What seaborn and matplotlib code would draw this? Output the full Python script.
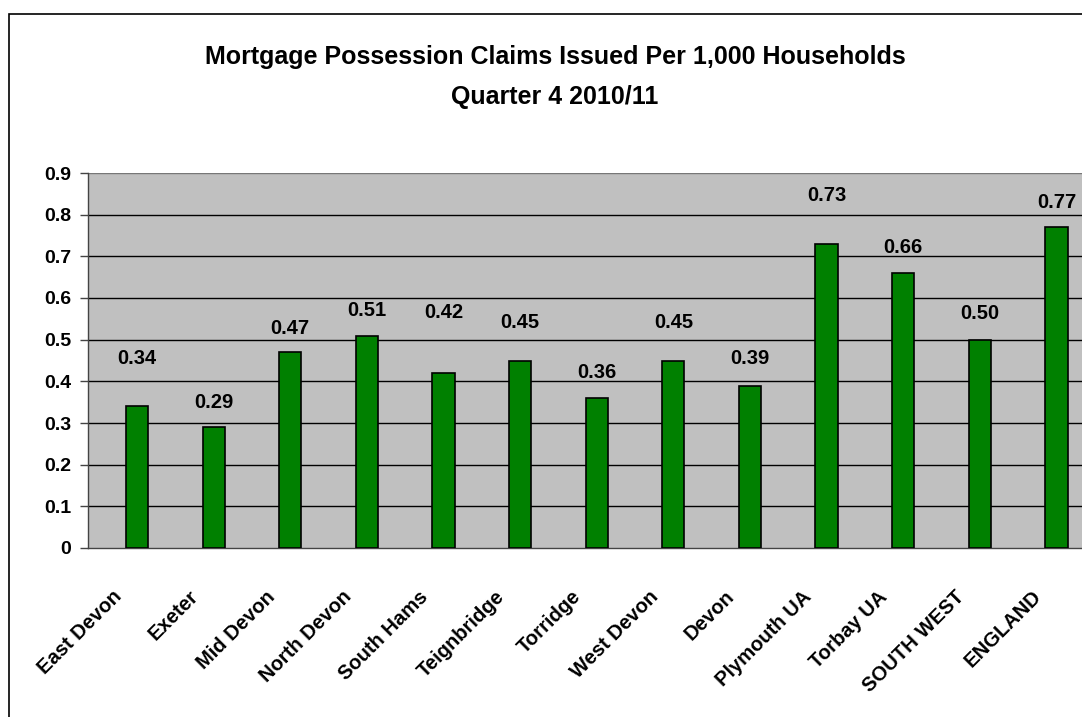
import matplotlib
matplotlib.use("Agg")
import matplotlib.pyplot as plt
import seaborn as sns
import pandas as pd
import numpy as np
from matplotlib.patches import Rectangle

areas = ["East Devon", "Exeter", "Mid Devon", "North Devon", "South Hams",
         "Teignbridge", "Torridge", "West Devon", "Devon", "Plymouth UA",
         "Torbay UA", "SOUTH WEST", "ENGLAND"]
claims = [0.34, 0.29, 0.47, 0.51, 0.42, 0.45, 0.36, 0.45, 0.39, 0.73, 0.66, 0.50, 0.77]
value_labels = ["0.34", "0.29", "0.47", "0.51", "0.42", "0.45", "0.36", "0.45",
                "0.39", "0.73", "0.66", "0.50", "0.77"]
y_ticks = [0, 0.1, 0.2, 0.3, 0.4, 0.5, 0.6, 0.7, 0.8, 0.9]
y_tick_labels = ["0", "0.1", "0.2", "0.3", "0.4", "0.5", "0.6", "0.7", "0.8", "0.9"]

# vertical gap between each bar top and its value label (data units)
label_gaps = [0.116, 0.06, 0.058, 0.061, 0.146, 0.092, 0.062, 0.092, 0.066,
              0.117, 0.062, 0.062, 0.058]

sns.set_theme(style="white")
plt.rcParams["font.family"] = ["Liberation Sans", "DejaVu Sans"]
plt.rcParams["font.weight"] = "bold"
plt.rcParams["text.color"] = "black"
plt.rcParams["xtick.labelcolor"] = "black"
plt.rcParams["ytick.labelcolor"] = "black"

W, H = 1082, 717
fig = plt.figure(figsize=(W / 100, H / 100), dpi=100)

# outer chart frame
fig.patches.append(Rectangle((9 / W, -0.1), 1.2, (H - 14) / H + 0.1,
                             transform=fig.transFigure, fill=False,
                             edgecolor="black", linewidth=1.2, zorder=0))

left, right, top, bottom = 88, 1084, 173, 548
ax = fig.add_axes([left / W, 1 - bottom / H, (right - left) / W, (bottom - top) / H])
ax.set_facecolor("#C0C0C0")

df = pd.DataFrame({"area": areas, "claims": claims})
sns.barplot(data=df, x="area", y="claims", color="#008000", width=0.29,
            edgecolor="black", linewidth=1.2, saturation=1, ax=ax, zorder=3)

# bars sit a little right of each category centre
shift = 0.14
for p in ax.patches:
    p.set_x(p.get_x() + shift)
    p.set_facecolor("#008000")

for i, (v, lab, g) in enumerate(zip(claims, value_labels, label_gaps)):
    ax.text(i + shift, v + g, lab, ha="center", va="center",
            fontsize=14.5, fontweight="bold", color="black", zorder=5)

ax.set_xlim(-0.5, len(areas) - 0.5)
ax.set_ylim(0, 0.9)
ax.set_yticks(y_ticks)
ax.set_yticklabels(y_tick_labels, fontsize=14, fontweight="bold")
for y in y_ticks[1:]:
    ax.axhline(y, color="black" if y < 0.85 else "#777777", linewidth=1.0, zorder=1)

# category names anchored slightly left of each category centre
ax.set_xticks(np.arange(len(areas)) - 0.1)
ax.set_xticklabels(areas, rotation=45, ha="right", va="center",
                   rotation_mode="anchor", fontsize=14.5, fontweight="bold")
ax.set_xticks(np.arange(-0.5, len(areas) - 0.5, 1.0), minor=True)
ax.tick_params(axis="x", which="major", length=0, pad=33)
ax.tick_params(axis="x", which="minor", length=6, width=1, color="#444444",
               direction="out")
ax.tick_params(axis="y", length=6, width=1, color="#444444", direction="out",
               left=True, pad=6)
ax.set_xlabel("")
ax.set_ylabel("")

for side in ["top", "right"]:
    ax.spines[side].set_visible(False)
ax.spines["left"].set_color("#444444")
ax.spines["bottom"].set_color("#444444")
ax.spines["left"].set_linewidth(1.0)
ax.spines["bottom"].set_linewidth(1.0)

fig.text(555 / W, 1 - 57 / H, "Mortgage Possession Claims Issued Per 1,000 Households",
         ha="center", va="center", fontsize=18, fontweight="bold")
fig.text(555 / W, 1 - 97 / H, "Quarter 4 2010/11",
         ha="center", va="center", fontsize=18, fontweight="bold")

fig.savefig("out.png", dpi=100, facecolor="white")
